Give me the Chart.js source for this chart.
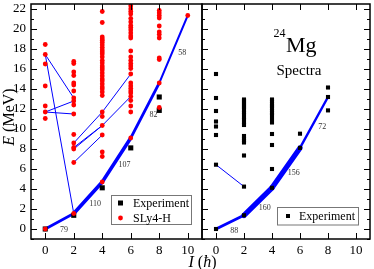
<!DOCTYPE html>
<html>
<head>
<meta charset="utf-8">
<script src="https://cdn.jsdelivr.net/npm/chart.js@4.4.1/dist/chart.umd.min.js"></script>
<style>
  html, body { margin: 0; padding: 0; background: #fff; }
  #wrap { position: relative; width: 374px; height: 269px; }
  #wrap canvas { position: absolute; left: 0; top: 0; }
</style>
</head>
<body>
<div id="wrap">
  <canvas id="left" width="374" height="269"></canvas>
  <canvas id="right" width="374" height="269"></canvas>
</div>
<script>
// tick labels
const xTickValues = [0, 2, 4, 6, 8, 10];
const yTickValues = [0, 2, 4, 6, 8, 10, 12, 14, 16, 18, 20, 22];

// SLy4-H levels (MeV) per spin, left panel
const thI0 = [0, 11.05, 11.7, 12.3, 14.3, 16.5, 17.45, 18.45];
const thI2 = [1.55, 6.65, 8.0, 8.15, 8.6, 9.45, 11.5, 12.4, 12.8, 13.1, 13.8, 14.4, 14.6, 15.35, 15.7, 16.55, 16.75];
const thI4 = [4.7, 7.25, 7.7, 9.4, 10.35, 11.25, 11.7, 13.35, 13.7, 14.0, 14.2, 14.5, 14.8, 15.0, 15.3, 15.6,
              15.9, 16.1, 16.3, 16.6, 16.85, 17.2, 17.5, 17.7, 17.9, 18.15, 18.4, 18.65, 18.85, 19.0, 19.2, 20.65, 21.75];
const thI6 = [9.1, 11.7, 12.3, 12.85, 13.25, 13.6, 13.8, 14.05, 14.3, 14.6, 15.5, 16.05, 16.3, 16.55, 16.85, 17.2,
              17.8, 19.1, 19.3, 19.6, 19.9, 20.15, 20.35, 20.7, 21.05, 21.5, 21.75, 22.0, 22.3];
const thI8 = [12.15, 14.6, 16.95, 17.1, 19.1, 19.45, 19.7, 20.3, 21.1, 21.35, 21.6, 21.85];
const thI10 = [21.35];

// experimental levels, left panel
const expI0 = [0];
const expI2 = [1.37];
const expI4 = [4.12];
const expI6 = [8.11];
const expI8 = [11.86, 13.2];

// experimental spectra, right panel
const specI0 = [0, 6.43, 9.4, 10.25, 10.75, 11.8, 13.1, 15.5];
const specI2 = [1.37, 4.24, 7.35, 8.65, 8.85, 9.05, 9.3, 10.4, 10.65, 10.95, 11.15, 11.45, 11.65, 11.9, 12.15,
                12.3, 12.45, 12.65, 12.8, 12.95];
const specI4 = [4.12, 6.0, 8.4, 9.5, 10.65, 11.0, 11.4, 11.6, 11.85, 12.1, 12.3, 12.5, 12.75, 12.95];
const specI6 = [8.11, 9.53];
const specI8 = [11.86, 13.2, 14.15];

// yrast band with B(E2) values
const yrastI = [0, 2, 4, 6, 8, 10];
const yrastE = [0, 1.55, 4.7, 9.1, 14.6, 21.35];
const yrastBE2 = [79, 110, 107, 82, 58];
const specYrastI = [0, 2, 4, 6, 8];
const specYrastE = [0, 1.37, 4.12, 8.11, 13.2];
const specBE2 = [88, 160, 156, 72];

// other transitions (thin lines)
const linkFromI = [0, 0, 0, 0, 2, 2, 2, 2, 4, 4];
const linkFromE = [17.45, 17.45, 11.7, 11.7, 8.6, 8.15, 8.0, 6.65, 11.7, 10.35];
const linkToI   = [2, 2, 2, 2, 4, 4, 4, 4, 6, 6];
const linkToE   = [1.55, 13.1, 12.8, 11.5, 11.7, 10.35, 10.35, 9.4, 15.5, 13.25];
const specLinkFromI = [0];
const specLinkFromE = [6.43];
const specLinkToI = [2];
const specLinkToE = [4.24];

const SERIF = "'Liberation Serif', 'DejaVu Serif', serif";
const BLUE = '#0000ff';
Chart.defaults.font.family = SERIF;
Chart.defaults.color = '#000';

function levels(spins, lists) {
  const pts = [];
  lists.forEach((list, k) => list.forEach(e => pts.push({ x: spins[k], y: e })));
  return pts;
}

function linkSets(fi, fe, ti, te) {
  return fi.map((_, i) => ({
    data: [{ x: fi[i], y: fe[i] }, { x: ti[i], y: te[i] }],
    showLine: true, pointRadius: 0, borderColor: BLUE, borderWidth: 1, order: 4
  }));
}

function bandSet(spins, energies, be2) {
  return {
    data: spins.map((s, i) => ({ x: s, y: energies[i] })),
    showLine: true, pointRadius: 0, borderColor: BLUE, borderWidth: 3,
    borderJoinStyle: 'round', borderCapStyle: 'round',
    segment: { borderWidth: c => be2[c.p0DataIndex] / 30 },
    order: 3
  };
}

function noPad(s) {
  s.paddingTop = 0; s.paddingBottom = 0; s.paddingLeft = 0; s.paddingRight = 0;
}

function scales(showY) {
  return {
    x: {
      type: 'linear', min: -1, max: 11,
      grid: { display: false, drawTicks: false }, border: { display: false },
      ticks: { padding: 4, font: { size: 13 } },
      afterBuildTicks: s => { s.ticks = xTickValues.map(v => ({ value: v })); },
      afterFit: s => { s.height = 30; noPad(s); }
    },
    y: {
      type: 'linear', min: -1, max: 22.5, display: showY,
      grid: { display: false, drawTicks: false }, border: { display: false },
      ticks: { padding: 5, font: { size: 13 } },
      afterBuildTicks: s => { s.ticks = yTickValues.map(v => ({ value: v })); },
      afterFit: s => { s.width = showY ? 31 : 0; noPad(s); }
    }
  };
}

// frame with inward ticks, B(E2) labels
function framePlugin(leftTicks, rightTicks, bandI, bandE, be2) {
  return {
    id: 'frame',
    afterDatasetsDraw(chart) {
      const { ctx, chartArea: a, scales: { x, y } } = chart;
      ctx.save();
      ctx.strokeStyle = '#000';
      ctx.lineWidth = 1.5;
      ctx.strokeRect(a.left, a.top, a.right - a.left, a.bottom - a.top);
      ctx.lineWidth = 1;
      ctx.beginPath();
      xTickValues.forEach(v => {
        const px = Math.round(x.getPixelForValue(v)) + 0.5;
        ctx.moveTo(px, a.bottom); ctx.lineTo(px, a.bottom - 6);
        ctx.moveTo(px, a.top); ctx.lineTo(px, a.top + 6);
      });
      for (let v = -1; v <= 22; v++) {
        const py = Math.round(y.getPixelForValue(v)) + 0.5;
        const len = v % 2 === 0 ? 6 : 3;
        if (leftTicks) { ctx.moveTo(a.left, py); ctx.lineTo(a.left + len, py); }
        if (rightTicks) { ctx.moveTo(a.right, py); ctx.lineTo(a.right - len, py); }
      }
      ctx.stroke();

      // B(E2) values beside the band
      ctx.fillStyle = '#333';
      ctx.font = '8px ' + SERIF;
      ctx.textAlign = 'center';
      ctx.textBaseline = 'middle';
      be2.forEach((val, i) => {
        const x0 = x.getPixelForValue(bandI[i]), y0 = y.getPixelForValue(bandE[i]);
        const x1 = x.getPixelForValue(bandI[i + 1]), y1 = y.getPixelForValue(bandE[i + 1]);
        const dx = x1 - x0, dy = y1 - y0, len = Math.hypot(dx, dy);
        const nx = -dy / len, ny = dx / len;
        ctx.fillText(String(val), (x0 + x1) / 2 + nx * 9.5, (y0 + y1) / 2 + ny * 9.5);
      });
      ctx.restore();
    }
  };
}

const leftText = {
  id: 'leftText',
  afterDraw(chart) {
    const { ctx } = chart;
    ctx.save();
    // legend
    ctx.strokeStyle = '#777';
    ctx.lineWidth = 1;
    ctx.strokeRect(111.5, 195.5, 80, 29);
    ctx.fillStyle = '#000';
    ctx.fillRect(118, 200.5, 5, 5);
    ctx.fillStyle = '#ff0000';
    ctx.beginPath(); ctx.arc(120.5, 218, 2.4, 0, Math.PI * 2); ctx.fill();
    ctx.fillStyle = '#000';
    ctx.font = '12px ' + SERIF;
    ctx.textBaseline = 'middle';
    ctx.fillText('Experiment', 133, 203.5);
    ctx.fillText('SLy4-H', 133, 218.5);
    // y title
    ctx.translate(14, 117);
    ctx.rotate(-Math.PI / 2);
    ctx.textBaseline = 'alphabetic';
    ctx.font = 'italic 16px ' + SERIF;
    const wE = ctx.measureText('E').width;
    ctx.font = '16px ' + SERIF;
    const wR = ctx.measureText(' (MeV)').width;
    const x0 = -(wE + wR) / 2;
    ctx.font = 'italic 16px ' + SERIF;
    ctx.fillText('E', x0, 0);
    ctx.font = '16px ' + SERIF;
    ctx.fillText(' (MeV)', x0 + wE, 0);
    ctx.restore();
  }
};

const rightText = {
  id: 'rightText',
  afterDraw(chart) {
    const { ctx } = chart;
    ctx.save();
    ctx.fillStyle = '#000';
    // legend
    ctx.strokeStyle = '#777';
    ctx.lineWidth = 1;
    ctx.strokeRect(277.5, 207.5, 81, 17.5);
    ctx.fillRect(286, 214, 4, 4);
    ctx.font = '12px ' + SERIF;
    ctx.textBaseline = 'middle';
    ctx.fillText('Experiment', 299, 216.5);
    // nucleus label
    ctx.textBaseline = 'alphabetic';
    ctx.font = '12px ' + SERIF;
    ctx.fillText('24', 273.5, 37);
    ctx.font = '22px ' + SERIF;
    ctx.fillText('Mg', 286, 51.5);
    ctx.font = '15px ' + SERIF;
    ctx.textAlign = 'center';
    ctx.fillText('Spectra', 299, 74.5);
    // x title
    ctx.textAlign = 'left';
    const parts = [['I', 'italic '], [' (', ''], ['\u0127', 'italic '], [')', '']];
    let w = 0;
    parts.forEach(p => { ctx.font = p[1] + '16px ' + SERIF; w += ctx.measureText(p[0]).width; });
    let cx = 202.5 - w / 2;
    parts.forEach(p => {
      ctx.font = p[1] + '16px ' + SERIF;
      ctx.fillText(p[0], cx, 267);
      cx += ctx.measureText(p[0]).width;
    });
    ctx.restore();
  }
};

const common = {
  responsive: false,
  animation: false,
  events: [],
  plugins: { legend: { display: false }, tooltip: { enabled: false } }
};

new Chart(document.getElementById('left'), {
  type: 'scatter',
  data: {
    datasets: [
      {
        label: 'SLy4-H',
        data: levels([0, 2, 4, 6, 8, 10], [thI0, thI2, thI4, thI6, thI8, thI10]),
        pointStyle: 'circle', pointRadius: 2.4, pointBackgroundColor: '#ff0000', pointBorderWidth: 0, order: 1
      },
      {
        label: 'Experiment',
        data: levels([0, 2, 4, 6, 8], [expI0, expI2, expI4, expI6, expI8]),
        pointStyle: 'rect', pointRadius: 3.6, pointBackgroundColor: '#000', pointBorderWidth: 0, order: 2
      },
      bandSet(yrastI, yrastE, yrastBE2),
      ...linkSets(linkFromI, linkFromE, linkToI, linkToE)
    ]
  },
  options: {
    ...common,
    layout: { padding: { left: 0, right: 172, top: 1, bottom: 0 } },
    scales: scales(true)
  },
  plugins: [framePlugin(true, false, yrastI, yrastE, yrastBE2), leftText]
});

new Chart(document.getElementById('right'), {
  type: 'scatter',
  data: {
    datasets: [
      {
        label: 'Experiment',
        data: levels([0, 2, 4, 6, 8], [specI0, specI2, specI4, specI6, specI8]),
        pointStyle: 'rect', pointRadius: 2.9, pointBackgroundColor: '#000', pointBorderWidth: 0, order: 1
      },
      bandSet(specYrastI, specYrastE, specBE2),
      ...linkSets(specLinkFromI, specLinkFromE, specLinkToI, specLinkToE)
    ]
  },
  options: {
    ...common,
    layout: { padding: { left: 202, right: 1, top: 1, bottom: 0 } },
    scales: scales(false)
  },
  plugins: [framePlugin(true, true, specYrastI, specYrastE, specBE2), rightText]
});
</script>
</body>
</html>
